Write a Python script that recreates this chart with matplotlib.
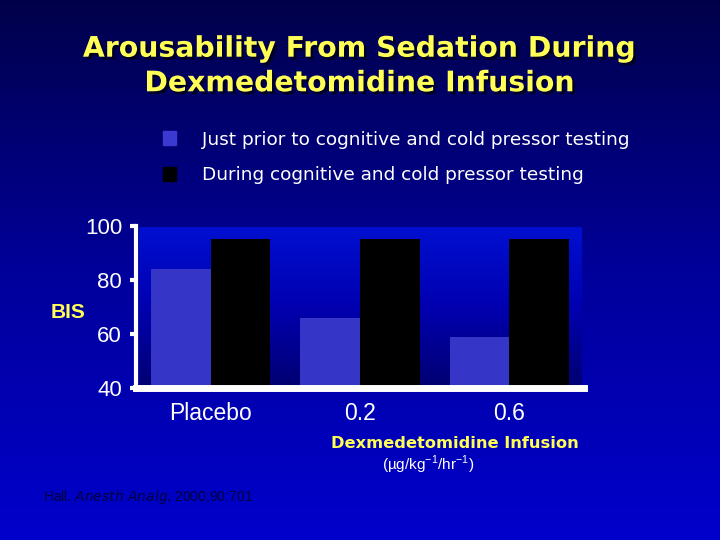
import numpy as np
import matplotlib
matplotlib.use("Agg")
import matplotlib.pyplot as plt
import matplotlib.patheffects as pe

# data
categories = ["Placebo", "0.2", "0.6"]
just_prior = [84, 66, 59]
during = [95, 95, 95]
yticks = [40, 60, 80, 100]

fig = plt.figure(figsize=(7.2, 5.4), dpi=100)

# background gradient (dark navy at top -> blue at bottom)
bg = fig.add_axes([0, 0, 1, 1], zorder=-10)
grad = np.linspace(0, 1, 256).reshape(-1, 1)
cmap_bg = matplotlib.colors.LinearSegmentedColormap.from_list("bg", ["#00004a", "#00009a", "#0000cc"])
bg.imshow(grad, aspect="auto", cmap=cmap_bg, extent=[0, 1, 0, 1], origin="upper")
bg.set_axis_off()

# title
title_fx = [pe.withSimplePatchShadow(offset=(2, -2), shadow_rgbFace="#000020", alpha=0.9)]
fig.text(0.5, 1 - 66 / 540, "Arousability From Sedation During\nDexmedetomidine Infusion",
         ha="center", va="center", color="#ffff55", fontsize=20.4, fontweight="bold",
         family="DejaVu Sans", linespacing=1.3, path_effects=title_fx)

# legend
fig.patches.append(plt.Rectangle((163 / 720, 1 - 145 / 540), 13 / 720, 14 / 540,
                                 transform=fig.transFigure, color="#3a3ad0", figure=fig))
fig.patches.append(plt.Rectangle((163 / 720, 1 - 181 / 540), 13 / 720, 14 / 540,
                                 transform=fig.transFigure, color="black", figure=fig))
fig.text(202 / 720, 1 - 140 / 540, "Just prior to cognitive and cold pressor testing",
         color="white", fontsize=13.3, family="DejaVu Sans", va="center")
fig.text(202 / 720, 1 - 175 / 540, "During cognitive and cold pressor testing",
         color="white", fontsize=13.3, family="DejaVu Sans", va="center")

# chart
ax = fig.add_axes([136 / 720, 1 - 388 / 540, 448 / 720, 162 / 540])
ax.set_facecolor("none")
cmap_ax = matplotlib.colors.LinearSegmentedColormap.from_list("ax", ["#0010d0", "#0000b0", "#000070"])
ax.imshow(grad, aspect="auto", cmap=cmap_ax, extent=[0.02, 2.98, 40, 99.5], origin="upper", zorder=0)

x = np.arange(len(categories)) + 0.5
w = 0.4
ax.bar(x - w / 2, np.array(just_prior) - 40, w, bottom=40, color="#3535c8", zorder=2)
ax.bar(x + w / 2, np.array(during) - 40, w, bottom=40, color="black", zorder=2)

ax.set_xlim(0, 3)
ax.set_ylim(40, 100)
ax.set_yticks(yticks)
ax.set_yticklabels([str(t) for t in yticks], color="white", fontsize=16, family="Liberation Sans")
ax.tick_params(axis="y", colors="white", length=4, width=3, pad=6)
ax.set_xticks(x)
ax.set_xticklabels(categories, color="white", fontsize=16.5, family="Liberation Sans")
ax.tick_params(axis="x", length=0, pad=10)
for s in ["top", "right"]:
    ax.spines[s].set_visible(False)
ax.spines["left"].set_color("white")
ax.spines["left"].set_linewidth(3)
ax.spines["bottom"].set_color("white")
ax.spines["bottom"].set_linewidth(5)

fig.text(68 / 720, 1 - 312 / 540, "BIS", color="#ffff55", fontsize=15, fontweight="bold",
         family="Liberation Sans", ha="center", va="center")

fig.text(455 / 720, 1 - 443 / 540, "Dexmedetomidine Infusion", color="#ffff55", fontsize=11.7,
         fontweight="bold", family="DejaVu Sans", ha="center", va="center")
fig.text(428 / 720, 1 - 465 / 540, r"(µg/kg$^{\mathregular{-1}}$/hr$^{\mathregular{-1}}$)",
         color="white", fontsize=11, family="Liberation Sans", ha="center", va="center")

fig.text(43 / 720, 1 - 497 / 540, "Hall. $\\it{Anesth\\ Analg}$. 2000;90:701", color="#00003c",
         fontsize=10, family="Liberation Sans", va="center")

fig.savefig("out.png", dpi=100)
